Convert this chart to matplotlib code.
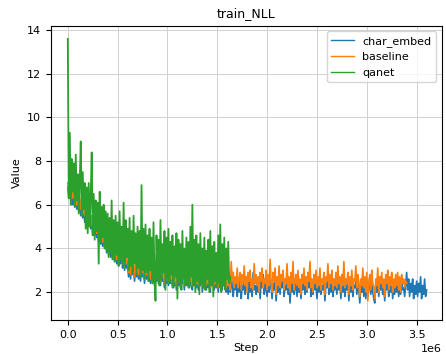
"""train_NLL curves"""
import matplotlib
matplotlib.use('Agg')
import matplotlib.pyplot as plt
import numpy as np

LOG_EVERY = 10000  # steps between logged values

qanet = [13.6, 6.3, 9.3, 6.0, 8.1, 6.6, 7.9, 5.9, 8.3, 6.2,
         7.4, 5.6, 7.1, 8.9, 5.5, 7.5, 5.8, 7.0, 4.9, 6.8,
         4.7, 7.0, 5.0, 6.4, 8.4, 4.6, 6.5, 4.4, 6.2, 4.8,
         6.1, 3.3, 6.6, 4.3, 5.9, 4.5, 6.0, 4.0, 5.7, 3.9,
         5.6, 3.6, 5.4, 3.8, 6.2, 3.5, 5.3, 3.4, 5.5, 3.7,
         5.2, 3.2, 5.7, 3.5, 5.0, 3.3, 6.1, 3.1, 5.3, 3.6,
         4.9, 3.0, 5.4, 3.2, 4.8, 2.9, 5.5, 3.3, 4.7, 2.8,
         5.0, 3.1, 4.8, 2.7, 6.9, 3.0, 4.9, 2.6, 5.1, 2.9,
         4.6, 2.5, 4.9, 3.0, 4.5, 2.4, 5.2, 2.8, 1.6, 4.6,
         2.7, 4.4, 2.3, 5.3, 2.6, 4.2, 2.9, 4.8, 2.1, 4.5,
         2.6, 4.9, 2.4, 4.3, 2.8, 4.6, 2.2, 4.1, 2.7, 4.7,
         1.7, 4.4, 2.5, 4.2, 2.1, 4.8, 2.6, 4.0, 2.3, 4.5,
         2.4, 4.3, 2.2, 5.0, 2.7, 6.0, 2.3, 4.4, 2.0, 4.6,
         2.5, 4.2, 1.9, 4.7, 2.4, 4.0, 2.2, 4.5, 2.1, 3.9,
         2.6, 4.4, 2.0, 4.8, 2.3, 4.1, 1.8, 4.3, 2.5, 3.8,
         2.2, 4.6, 2.4, 5.1, 2.0, 4.2, 2.3, 4.5, 2.1, 4.0,
         2.6, 4.3, 2.4, 2.7]

baseline = [7.0, 6.6, 7.2, 6.5, 6.9, 6.3, 6.8, 6.2, 6.6, 6.0,
            6.5, 5.9, 6.3, 5.8, 6.1, 5.6, 6.0, 5.5, 5.9, 5.3,
            5.8, 5.2, 5.6, 5.1, 5.5, 4.9, 5.4, 4.8, 5.2, 4.7,
            5.1, 4.5, 5.0, 4.4, 4.9, 4.3, 4.8, 4.2, 4.6, 4.0,
            4.6, 3.9, 4.4, 3.8, 4.5, 3.7, 4.3, 3.6, 4.2, 3.5,
            4.1, 3.4, 4.0, 3.5, 4.2, 3.3, 3.9, 3.2, 4.0, 3.3,
            3.4, 2.9, 3.3, 2.8, 3.5, 3.0, 3.2, 2.7, 3.4, 2.9,
            3.3, 2.8, 3.2, 2.7, 3.4, 2.9, 3.1, 2.6, 3.3, 2.8,
            3.2, 2.7, 3.1, 2.6, 3.3, 2.8, 3.0, 2.5, 3.2, 2.7,
            3.1, 2.6, 3.0, 2.5, 3.2, 2.7, 2.9, 2.4, 3.1, 2.6,
            3.0, 2.5, 3.1, 2.6, 2.9, 2.4, 3.0, 2.5, 2.8, 2.3,
            3.0, 2.5, 2.9, 2.4, 3.1, 2.6, 2.8, 2.3, 3.0, 2.5,
            2.9, 2.4, 3.0, 2.5, 2.8, 2.3, 3.1, 2.5, 2.9, 2.4,
            2.8, 2.3, 3.0, 2.5, 2.9, 2.2, 2.8, 2.4, 3.0, 2.3,
            2.9, 2.4, 2.7, 2.2, 3.0, 2.5, 2.8, 2.3, 2.9, 2.4,
            2.8, 2.2, 3.0, 2.4, 2.7, 2.3, 2.9, 2.5, 2.8, 2.2,
            3.0, 2.3, 2.8, 2.1, 3.4, 2.5, 2.9, 2.2, 2.7, 2.4,
            3.1, 2.2, 2.6, 2.9, 2.1, 2.8, 2.4, 3.2, 2.3, 2.7,
            2.0, 2.9, 2.5, 3.0, 2.2, 2.6, 2.1, 3.3, 2.4, 2.8,
            2.3, 2.7, 2.0, 2.9, 2.5, 3.1, 2.2, 2.6, 2.4, 3.0,
            2.1, 2.8, 2.3, 3.5, 2.4, 2.0, 2.9, 2.5, 3.1, 1.9,
            2.7, 2.3, 3.2, 2.2, 2.8, 2.5, 3.0, 2.1, 2.6, 2.4,
            3.3, 2.2, 2.7, 2.0, 2.9, 2.4, 3.4, 2.1, 2.5, 2.8,
            2.3, 3.0, 2.2, 2.6, 1.9, 2.8, 2.4, 3.1, 2.3, 2.7,
            2.1, 2.9, 2.5, 3.4, 2.2, 2.6, 2.0, 2.8, 2.4, 3.0,
            2.2, 2.7, 2.3, 3.1, 2.1, 2.6, 2.4, 2.9, 1.9, 2.7,
            2.5, 3.3, 2.2, 2.8, 2.4, 3.0, 2.1, 2.6, 2.3, 2.9,
            2.2, 3.2, 2.4, 2.7, 2.0, 2.8, 2.3, 3.4, 2.2, 2.6,
            2.4, 2.9, 1.9, 2.7, 2.3, 3.0, 2.1, 2.6, 2.5, 3.2,
            2.2, 2.8, 2.4, 1.8, 2.6, 2.3, 3.1, 2.2, 2.7, 2.0,
            2.9, 1.6, 2.5, 2.8, 2.1, 3.0, 2.4, 2.2, 1.7, 2.6,
            2.3, 3.1, 2.0, 2.7, 2.4, 2.9, 2.2, 2.6, 1.8, 2.8,
            2.4, 3.0, 2.1, 2.7, 2.3, 2.9, 2.0, 2.6, 2.2, 2.8,
            2.3, 2.9, 2.1, 2.7, 2.0, 2.8, 2.4, 2.6, 2.2, 2.5,
            2.4]

char_embed = [6.8, 6.3, 6.9, 6.2, 6.6, 6.0, 6.5, 5.9, 6.3, 5.8,
              6.2, 5.7, 6.0, 5.5, 5.9, 5.4, 5.8, 5.2, 5.6, 5.1,
              5.5, 5.0, 5.4, 4.9, 5.2, 4.7, 5.1, 4.6, 5.0, 4.5,
              4.9, 4.3, 4.8, 4.2, 4.7, 4.1, 4.6, 4.0, 4.4, 3.8,
              4.4, 3.7, 4.2, 3.6, 4.3, 3.5, 4.1, 3.4, 4.0, 3.3,
              3.9, 3.2, 3.8, 3.3, 4.0, 3.1, 3.7, 3.0, 3.8, 3.1,
              3.2, 2.7, 3.1, 2.6, 3.3, 2.8, 3.0, 2.5, 3.2, 2.7,
              3.1, 2.6, 3.0, 2.5, 3.2, 2.7, 2.9, 2.4, 3.1, 2.6,
              3.0, 2.5, 2.9, 2.4, 3.1, 2.6, 2.8, 2.3, 3.0, 2.5,
              2.9, 2.4, 2.8, 2.3, 3.0, 2.5, 2.7, 2.2, 2.9, 2.4,
              2.8, 2.3, 2.9, 2.4, 2.7, 2.2, 2.8, 2.3, 2.6, 2.1,
              2.8, 2.3, 2.7, 2.2, 2.9, 2.4, 2.6, 2.1, 2.8, 2.3,
              2.7, 2.2, 2.8, 2.3, 2.6, 2.1, 2.9, 2.3, 2.7, 2.2,
              2.6, 2.1, 2.8, 2.3, 2.7, 2.0, 2.6, 2.2, 2.8, 2.1,
              2.7, 2.2, 2.5, 2.0, 2.8, 2.3, 2.6, 2.1, 2.7, 2.2,
              2.6, 2.0, 2.8, 2.2, 2.5, 2.1, 2.7, 2.3, 2.6, 2.0,
              2.4, 1.9, 2.6, 2.0, 3.0, 2.2, 1.8, 2.5, 2.1, 2.7,
              1.8, 2.4, 2.0, 2.6, 1.7, 2.3, 2.1, 2.8, 1.9, 2.5,
              2.2, 1.7, 2.6, 2.0, 2.4, 1.8, 2.9, 2.1, 2.3, 1.9,
              2.6, 2.0, 2.3, 1.7, 2.5, 2.2, 2.8, 1.9, 2.4, 2.1,
              1.8, 2.5, 2.0, 2.7, 2.2, 1.7, 2.4, 2.1, 2.6, 1.6,
              2.3, 2.0, 2.7, 1.9, 2.5, 2.2, 2.9, 1.8, 2.3, 2.1,
              2.6, 1.9, 2.4, 1.5, 2.5, 2.0, 2.8, 1.9, 2.2, 2.4,
              1.8, 2.6, 2.0, 2.3, 1.7, 2.5, 2.1, 2.7, 1.9, 2.3,
              2.0, 2.5, 2.2, 2.8, 1.8, 2.3, 1.9, 2.6, 2.1, 2.4,
              1.7, 2.4, 2.0, 2.7, 1.9, 2.3, 2.1, 2.5, 1.6, 2.4,
              2.2, 2.8, 1.9, 2.4, 2.0, 2.6, 1.8, 2.3, 2.1, 2.5,
              1.9, 2.7, 2.1, 2.4, 1.7, 2.5, 2.0, 2.9, 1.8, 2.3,
              2.1, 2.6, 1.6, 2.4, 2.0, 2.7, 1.8, 2.3, 2.2, 2.5,
              1.9, 2.4, 2.1, 1.5, 2.3, 2.0, 2.6, 1.8, 2.4, 1.7,
              2.5, 1.8, 2.2, 2.6, 1.9, 2.4, 2.0, 1.7, 1.5, 2.3,
              2.0, 2.6, 1.8, 2.4, 2.1, 2.5, 1.9, 2.2, 1.6, 2.4,
              2.1, 2.6, 1.8, 2.3, 2.0, 2.5, 1.7, 2.3, 1.9, 2.4,
              2.0, 2.5, 1.8, 2.3, 1.9, 2.4, 2.1, 2.2, 1.8, 2.3,
              2.9, 2.1, 2.6, 1.8, 2.4, 2.0, 2.6, 1.7, 2.3, 1.9,
              2.5, 1.8, 2.4, 2.0, 2.7, 1.7, 2.3, 1.9, 2.6, 1.8,
              2.1]


def steps_for(values):
	return np.arange(len(values)) * LOG_EVERY


def main():
	fig = plt.figure(figsize=(4.46, 3.54), dpi=100)
	ax = fig.add_axes([0.114, 0.096, 0.876, 0.831])

	ax.plot(steps_for(char_embed), char_embed, color='#1f77b4', lw=1.2, label='char_embed')
	ax.plot(steps_for(baseline), baseline, color='#ff7f0e', lw=1.2, label='baseline')
	ax.plot(steps_for(qanet), qanet, color='#2ca02c', lw=1.3, label='qanet')

	ax.set_xlim(-0.17e6, 3.75e6)
	ax.set_ylim(0.72, 14.2)
	ax.set_xticks(np.arange(0, 3.6e6, 0.5e6))
	ax.set_yticks(np.arange(2, 15, 2))
	ax.grid(True, color='#d0d0d0', lw=0.7)
	ax.tick_params(labelsize=8)
	ax.xaxis.get_offset_text().set_fontsize(8)

	ax.set_title('train_NLL', fontsize=9)
	ax.set_xlabel('Step', fontsize=8, labelpad=2)
	ax.set_ylabel('Value', fontsize=8)
	leg = ax.legend(loc='upper right', fontsize=8, handlelength=2)
	for line in leg.get_lines():
		line.set_linewidth(1.0)

	plt.savefig('out.png', dpi=100)
	plt.close()


if __name__ == '__main__':
	main()
